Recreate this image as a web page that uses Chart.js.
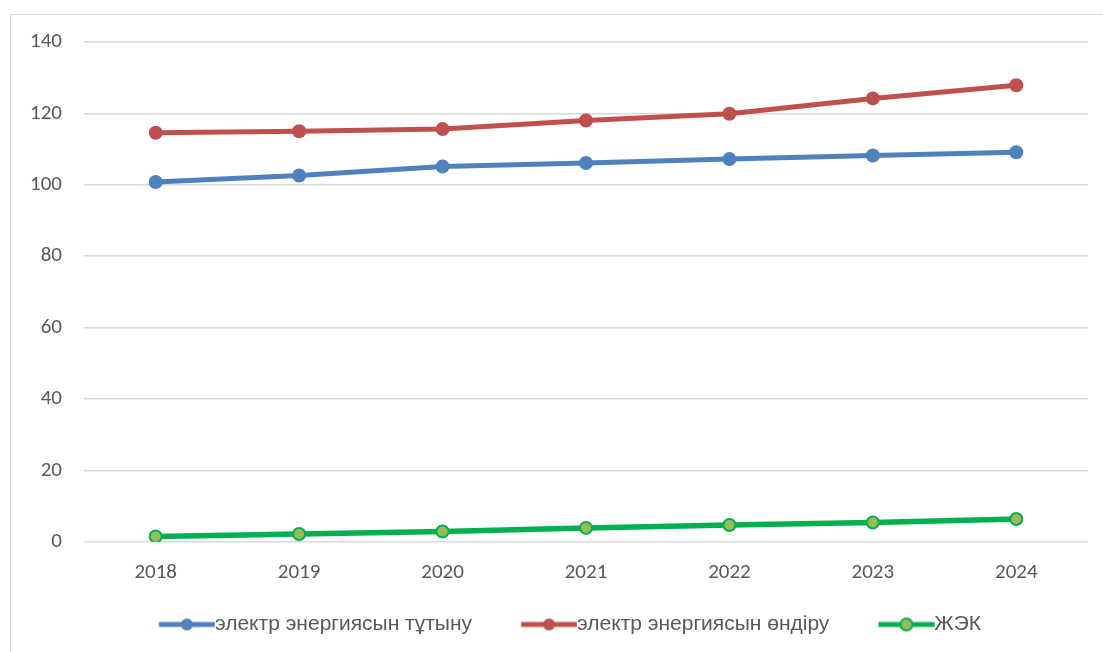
<!DOCTYPE html>
<html>
<head>
<meta charset="utf-8">
<script src="https://cdn.jsdelivr.net/npm/chart.js@4.4.1/dist/chart.umd.min.js"></script>
<style>
  html,body{margin:0;padding:0;background:#fff;}
  #wrap{position:relative;width:1103px;height:652px;overflow:hidden;}
  #frame{position:absolute;left:10px;top:14px;width:1100px;height:700px;border-left:1.5px solid #d9d9d9;border-top:1.5px solid #d9d9d9;box-sizing:border-box;}
  canvas{position:absolute;left:0;top:0;}
</style>
</head>
<body>
<div id="wrap">
  <div id="frame"></div>
  <canvas id="c" width="1103" height="652"></canvas>
</div>
<script>
const years = ['2018','2019','2020','2021','2022','2023','2024'];
const consumption = [100.8, 102.6, 105.1, 106.1, 107.2, 108.2, 109.1];
const production = [114.6, 115.0, 115.6, 118.0, 119.9, 124.2, 127.9];
const renewables = [1.5, 2.2, 2.9, 3.9, 4.7, 5.4, 6.4];
const seriesNames = ['электр энергиясын тұтыну', 'электр энергиясын өндіру', 'ЖЭК'];

// legend symbol geometry
const LEG_FONT = 21;
const LEG_GAP = 38;        // transparent lead-in before the symbol
const LEG_SYM = 56;        // visible symbol length
const LEG_BOX = LEG_GAP + LEG_SYM - LEG_FONT / 2;
function legendImg(lineColor, fill, border) {
  const half = Math.max(LEG_BOX / 2 - LEG_GAP, LEG_GAP + LEG_SYM - LEG_BOX / 2);
  const W = Math.ceil(half * 2);
  const c = document.createElement('canvas');
  c.width = W; c.height = 16;
  const g = c.getContext('2d');
  const x0 = W / 2 - LEG_BOX / 2 + LEG_GAP;
  g.strokeStyle = lineColor; g.lineWidth = 5; g.lineCap = 'butt';
  g.beginPath(); g.moveTo(x0, 8); g.lineTo(x0 + LEG_SYM, 8); g.stroke();
  g.beginPath(); g.arc(x0 + LEG_SYM / 2, 8, 6, 0, 2 * Math.PI);
  g.fillStyle = fill; g.fill();
  if (border) { g.lineWidth = 2; g.strokeStyle = border; g.stroke(); }
  return c;
}
const legendImgs = [
  legendImg('#4f81bd', '#4f81bd'),
  legendImg('#c0504d', '#c0504d'),
  legendImg('#00b050', '#9bbb59', '#00b050')
];

const tickFont = {family: "Carlito, 'Liberation Sans', Arial, sans-serif", size: 21};

const legendShift = {
  id: 'legendShift',
  afterLayout(chart) {
    if (chart.legend) { chart.legend.left -= 7; chart.legend.right -= 7; }
  }
};

new Chart(document.getElementById('c'), {
  type: 'line',
  data: {
    labels: years,
    datasets: [
      {label: seriesNames[0], data: consumption, borderColor: '#4f81bd', backgroundColor: '#4f81bd',
       borderWidth: 5, pointRadius: 7, pointHoverRadius: 7, pointBorderWidth: 0, pointBackgroundColor: '#4f81bd'},
      {label: seriesNames[1], data: production, borderColor: '#c0504d', backgroundColor: '#c0504d',
       borderWidth: 5, pointRadius: 7, pointHoverRadius: 7, pointBorderWidth: 0, pointBackgroundColor: '#c0504d'},
      {label: seriesNames[2], data: renewables, borderColor: '#00b050', backgroundColor: '#9bbb59',
       borderWidth: 5.5, pointRadius: 6, pointHoverRadius: 6, pointBorderWidth: 2, pointBorderColor: '#00b050', pointBackgroundColor: '#9bbb59'}
    ]
  },
  options: {
    responsive: false,
    animation: false,
    devicePixelRatio: 1,
    layout: {padding: {left: 28, right: 15, top: 42, bottom: 7}},
    scales: {
      x: {
        offset: true,
        grid: {display: false, drawTicks: false},
        border: {display: false},
        ticks: {color: '#595959', font: tickFont, padding: 18, maxRotation: 0}
      },
      y: {
        min: 0, max: 140,
        ticks: {stepSize: 20, color: '#595959', font: tickFont, padding: 22},
        grid: {color: '#d9d9d9', lineWidth: 1.5, drawTicks: false},
        border: {display: false},
        afterFit: s => { s.width = 56; }
      }
    },
    plugins: {
      tooltip: {enabled: false},
      legend: {
        position: 'bottom',
        labels: {
          usePointStyle: true,
          pointStyleWidth: LEG_BOX,
          color: '#595959',
          font: {family: "'Liberation Sans', Arial, sans-serif", size: LEG_FONT},
          padding: 11,
          generateLabels: chart => Chart.defaults.plugins.legend.labels.generateLabels(chart)
            .map((l, i) => Object.assign(l, {pointStyle: legendImgs[i]}))
        }
      }
    }
  },
  plugins: [legendShift]
});
</script>
</body>
</html>
